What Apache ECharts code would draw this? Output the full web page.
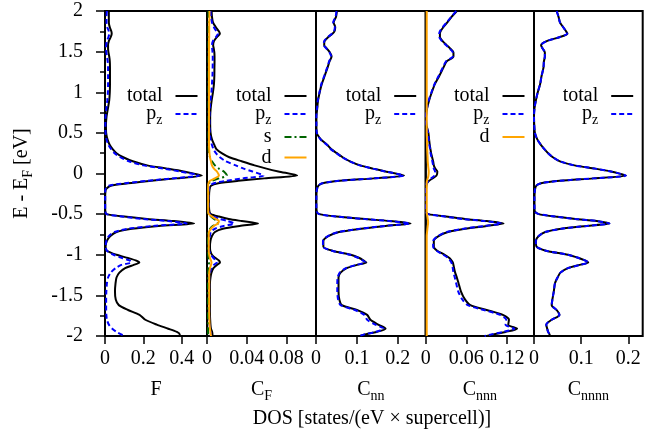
<!DOCTYPE html>
<html><head><meta charset="utf-8">
<script src="https://cdn.jsdelivr.net/npm/echarts@6/dist/echarts.min.js"></script>
<style>html,body{margin:0;padding:0;background:#fff}#c{width:670px;height:435px}</style>
</head><body><div id="c"></div>
<script>
// Energy grid E - E_F [eV] (shared by all curves)
const energy = [2.00,1.93,1.86,1.80,1.75,1.72,1.68,1.63,1.58,1.54,1.49,1.44,1.38,1.30,1.20,1.10,1.00,0.90,0.80,0.70,0.60,0.50,0.42,0.35,0.30,0.25,0.20,0.15,0.10,0.06,0.025,-0.025,-0.06,-0.09,-0.12,-0.15,-0.20,-0.30,-0.40,-0.47,-0.50,-0.53,-0.56,-0.585,-0.615,-0.645,-0.68,-0.72,-0.77,-0.83,-0.90,-0.95,-1.00,-1.04,-1.07,-1.095,-1.125,-1.165,-1.22,-1.28,-1.35,-1.45,-1.55,-1.62,-1.68,-1.74,-1.80,-1.86,-1.91,-1.95,-1.98,-2.00];

// Panel F
const F_total = [.020,.020,.020,.025,.033,.035,.030,.020,.016,.016,.018,.022,.025,.026,.026,.026,.025,.022,.015,.008,.005,.006,.013,.025,.040,.060,.095,.145,.220,.325,.410,.505,.370,.240,.120,.030,.004,.001,.001,.002,.008,.100,.220,.360,.465,.280,.140,.060,.028,.010,.003,.010,.060,.120,.160,.179,.150,.105,.075,.060,.055,.052,.056,.072,.120,.180,.210,.270,.330,.375,.390,.390];
const F_pz = [.010,.008,.008,.012,.020,.022,.018,.010,.006,.005,.007,.010,.014,.016,.016,.016,.015,.012,.007,.003,.002,.003,.008,.018,.032,.050,.080,.125,.200,.305,.390,.490,.350,.220,.105,.020,.002,.001,.001,.002,.007,.090,.200,.330,.426,.250,.120,.050,.020,.007,.004,.010,.045,.090,.128,.138,.085,.055,.030,.016,.010,.007,.006,.006,.006,.007,.010,.020,.038,.060,.085,.100];

// Panel C_F
const CF_total = [.0047,.0050,.0060,.0090,.0120,.0130,.0100,.0070,.0062,.0068,.0074,.0076,.0076,.0075,.0074,.0070,.0060,.0047,.0037,.0032,.0032,.0036,.0050,.0075,.0095,.0148,.0225,.0350,.0480,.0600,.0720,.0910,.0580,.0316,.0114,.0040,.0025,.0020,.0020,.0025,.0040,.0120,.0220,.0350,.0515,.0330,.0160,.0080,.0050,.0035,.0030,.0033,.0050,.0085,.0120,.0131,.0100,.0065,.0045,.0035,.0030,.0030,.0030,.0030,.0030,.0030,.0032,.0035,.0040,.0052,.0055,.0055];
const CF_pz = [.0035,.0040,.0050,.0070,.0095,.0110,.0090,.0060,.0050,.0052,.0056,.0058,.0058,.0057,.0055,.0050,.0045,.0035,.0028,.0025,.0025,.0028,.0035,.0050,.0065,.0090,.0130,.0190,.0290,.0370,.0460,.0570,.0360,.0190,.0070,.0030,.0018,.0015,.0015,.0015,.0030,.0070,.0130,.0210,.0275,.0170,.0080,.0040,.0028,.0020,.0020,.0022,.0040,.0065,.0090,.0098,.0070,.0045,.0030,.0022,.0022,.0022,.0022,.0022,.0022,.0022,.0022,.0025,.0030,.0038,.0040,.0040];
const CF_s = [.0015,.0015,.0015,.0015,.0015,.0015,.0015,.0015,.0015,.0015,.0015,.0015,.0015,.0015,.0015,.0015,.0015,.0015,.0015,.0015,.0015,.0015,.0015,.0015,.0016,.0020,.0030,.0050,.0080,.0120,.0170,.0200,.0120,.0050,.0020,.0012,.0010,.0010,.0010,.0010,.0012,.0040,.0070,.0100,.0110,.0060,.0030,.0015,.0010,.0010,.0010,.0010,.0012,.0015,.0018,.0020,.0018,.0014,.0012,.0010,.0010,.0010,.0010,.0010,.0010,.0010,.0010,.0010,.0010,.0010,.0010,.0010];
const CF_d = [.0025,.0025,.0022,.0022,.0022,.0022,.0022,.0020,.0020,.0020,.0020,.0020,.0020,.0020,.0020,.0020,.0020,.0020,.0020,.0020,.0020,.0020,.0020,.0020,.0022,.0025,.0030,.0040,.0050,.0070,.0100,.0120,.0080,.0030,.0015,.0012,.0012,.0012,.0012,.0012,.0020,.0050,.0090,.0120,.0110,.0070,.0040,.0020,.0018,.0018,.0018,.0018,.0022,.0030,.0040,.0045,.0040,.0030,.0022,.0022,.0022,.0022,.0022,.0022,.0022,.0022,.0024,.0026,.0030,.0035,.0038,.0040];

// Panel C_nn
const Cnn_total = [.051,.049,.043,.047,.045,.040,.030,.021,.020,.026,.034,.038,.033,.028,.021,.014,.009,.005,.003,.001,.001,.002,.012,.028,.037,.051,.065,.083,.108,.140,.170,.215,.141,.058,.016,.006,.002,.001,.001,.002,.008,.050,.120,.180,.231,.170,.110,.056,.030,.018,.018,.040,.085,.106,.116,.123,.100,.075,.060,.055,.055,.055,.057,.063,.100,.125,.133,.152,.170,.148,.120,.108];
const Cnn_pz = [.050,.048,.042,.046,.044,.039,.029,.020,.019,.025,.033,.037,.032,.027,.020,.013,.0085,.0045,.0025,.001,.001,.002,.011,.027,.036,.050,.064,.082,.107,.139,.169,.214,.140,.057,.015,.0055,.002,.001,.001,.002,.008,.049,.118,.178,.229,.168,.108,.055,.029,.017,.017,.039,.083,.104,.114,.121,.098,.073,.058,.053,.052,.052,.054,.060,.095,.118,.125,.145,.165,.145,.118,.106];

// Panel C_nnn
const Cnnn_total = [.046,.0385,.032,.026,.022,.021,.021,.025,.031,.036,.041,.041,.031,.026,.020,.0135,.009,.005,.002,.0005,.001,.004,.005,.006,.007,.008,.0095,.011,.012,.014,.0172,.016,.010,.005,.002,.001,.0005,.0005,.0005,.0005,.004,.030,.058,.090,.115,.090,.058,.033,.019,.012,.012,.017,.028,.035,.038,.040,.041,.042,.0435,.046,.0485,.052,.058,.066,.090,.114,.123,.122,.135,.118,.100,.090];
const Cnnn_pz = [.045,.038,.031,.025,.021,.020,.020,.024,.030,.035,.040,.040,.030,.025,.019,.013,.0085,.0045,.0018,.0005,.001,.0035,.0045,.0055,.0065,.0072,.0085,.0098,.011,.012,.0138,.013,.008,.004,.0015,.0008,.0005,.0005,.0005,.0005,.0035,.028,.055,.087,.112,.087,.056,.031,.018,.011,.011,.016,.026,.033,.036,.038,.039,.040,.041,.043,.045,.048,.054,.062,.086,.110,.119,.118,.131,.114,.097,.087];
const Cnnn_d = [.0015,.0015,.0015,.0015,.0015,.0015,.0015,.0015,.0015,.0015,.0015,.0015,.0015,.0015,.0015,.0015,.0015,.0015,.0015,.0015,.0015,.0015,.0018,.0020,.0022,.0025,.0028,.0030,.0035,.0040,.0045,.0040,.0030,.0020,.0015,.0015,.0015,.0015,.0015,.0015,.0018,.0025,.0030,.0035,.0035,.0030,.0025,.0020,.0015,.0015,.0015,.0015,.0015,.0015,.0015,.0015,.0015,.0015,.0015,.0015,.0015,.0015,.0015,.0015,.0015,.0015,.0015,.0015,.0015,.0015,.0015,.0015];

// Panel C_nnnn
const Cnnnn_total = [.048,.052,.055,.062,.068,.071,.055,.027,.015,.018,.023,.023,.021,.020,.016,.013,.008,.004,.001,.000,.0005,.002,.007,.015,.022,.030,.040,.055,.086,.130,.163,.195,.126,.055,.015,.005,.002,.001,.001,.002,.010,.045,.088,.133,.160,.112,.058,.024,.010,.004,.0055,.025,.072,.095,.108,.115,.097,.072,.056,.050,.0445,.042,.039,.0375,.048,.054,.0375,.026,.028,.030,.033,.034];
const Cnnnn_pz = [.048,.052,.055,.062,.068,.070,.055,.027,.015,.018,.023,.023,.021,.020,.016,.013,.008,.004,.001,.000,.0005,.002,.007,.015,.022,.030,.040,.055,.086,.130,.163,.195,.126,.055,.015,.005,.002,.001,.001,.002,.010,.045,.088,.133,.160,.112,.058,.024,.010,.004,.0055,.025,.072,.095,.108,.115,.097,.072,.056,.050,.0445,.042,.039,.0375,.048,.054,.0375,.026,.028,.030,.033,.034];

// Axis settings
const panelNames = ['F', 'C_F', 'C_nn', 'C_nnn', 'C_nnnn'];
const xMax = [0.532, 0.110, 0.268, 0.160, 0.2305];
const xTickValues = [[0, 0.2, 0.4], [0, 0.04, 0.08], [0, 0.1, 0.2], [0, 0.06, 0.12], [0, 0.1, 0.2]];
const yMin = -2, yMax = 2, yInterval = 0.5;
const legendRows = [['total', 'p_z'], ['total', 'p_z', 's', 'd'], ['total', 'p_z'], ['total', 'p_z', 'd'], ['total', 'p_z']];
const panelCurves = [
  [['total', F_total], ['p_z', F_pz]],
  [['total', CF_total], ['p_z', CF_pz], ['s', CF_s], ['d', CF_d]],
  [['total', Cnn_total], ['p_z', Cnn_pz]],
  [['total', Cnnn_total], ['p_z', Cnnn_pz], ['d', Cnnn_d]],
  [['total', Cnnnn_total], ['p_z', Cnnnn_pz]]
];
const xTitle = 'DOS [states/(eV \u00d7 supercell)]';
const yTitle = 'E - E_F [eV]';

// Layout / style
const FONT = '"Liberation Serif", "Times New Roman", Times, serif';
const gridLeft = [105, 207, 316, 425.7, 534];
const gridWidth = [102, 109, 109.7, 108.3, 108.7];
const gridTop = 11, gridHeight = 325;
const LH = 26;
const styles = {
  total: { color: '#000000', type: 'solid' },
  p_z: { color: '#0000ff', type: [5, 3] },
  s: { color: '#006400', type: [7, 3, 2, 3] },
  d: { color: '#ffa500', type: 'solid' }
};
const rich = {
  m: { fontFamily: FONT, fontSize: 20, lineHeight: LH, color: '#000' },
  s: { fontFamily: FONT, fontSize: 14, lineHeight: LH, padding: [12, 0, 0, 0], color: '#000' },
  g: { fontFamily: FONT, fontSize: 20, lineHeight: LH, width: 8 }
};
function richText(t) {
  const out = [];
  const re = /_([A-Za-z]+)/g;
  let last = 0, m;
  while ((m = re.exec(t)) !== null) {
    if (m.index > last) out.push('{m|' + t.slice(last, m.index) + '}');
    out.push('{s|' + m[1] + '}');
    last = re.lastIndex;
  }
  if (last < t.length) out.push('{m|' + t.slice(last) + '}');
  return out.join('');
}

const grids = [], xAxes = [], yAxes = [], series = [], legends = [];
for (let i = 0; i < 5; i++) {
  grids.push({ left: gridLeft[i], top: gridTop, width: gridWidth[i], height: gridHeight,
    show: true, borderColor: '#000', borderWidth: 2, backgroundColor: 'transparent',
    containLabel: false, outerBoundsMode: 'none' });
  xAxes.push({ type: 'value', gridIndex: i, min: 0, max: xMax[i], position: 'bottom',
    axisLine: { show: false, onZero: false }, splitLine: { show: false },
    axisTick: { show: true, inside: false, length: 8, customValues: xTickValues[i], lineStyle: { color: '#000', width: 1.5 } },
    axisLabel: { show: true, customValues: xTickValues[i], margin: 13, fontFamily: FONT, fontSize: 20, color: '#000',
      formatter: v => String(v) },
    name: richText(panelNames[i]), nameLocation: 'middle', nameGap: 41, nameMoveOverlap: false,
    nameTextStyle: { rich: rich }
  });
  const first = i === 0;
  yAxes.push({ type: 'value', gridIndex: i, min: yMin, max: yMax, interval: yInterval, position: 'left',
    axisLine: { show: false, onZero: false }, splitLine: { show: false },
    axisTick: { show: first, inside: false, length: 9, lineStyle: { color: '#000', width: 1.5 } },
    minorTick: { show: first, splitNumber: 2, length: 5, lineStyle: { color: '#000', width: 1.5 } },
    minorSplitLine: { show: false },
    axisLabel: { show: first, margin: 22, fontFamily: FONT, fontSize: 20, color: '#000', formatter: v => String(v) },
    name: first ? richText(yTitle) : '', nameLocation: 'middle', nameGap: 70, nameRotate: 90, nameMoveOverlap: false,
    nameTextStyle: { rich: rich }
  });
  panelCurves[i].forEach(([name, vals]) => {
    series.push({ type: 'line', name: name, xAxisIndex: i, yAxisIndex: i,
      data: energy.map((e, k) => [vals[k], e]),
      symbol: 'none', showSymbol: false, smooth: 0.25, animation: false, silent: true,
      lineStyle: { width: 2, color: styles[name].color, type: styles[name].type },
      itemStyle: { color: styles[name].color }
    });
  });
  const sampleEnd = gridLeft[i] + gridWidth[i] - 8.5;
  const rowY = [95, 115.5, 136, 156.5];
  legendRows[i].forEach((name, r) => {
    const hasSub = name.indexOf('_') >= 0;
    legends.push({ data: [name], orient: 'horizontal', align: 'right', right: 670 - sampleEnd,
      top: rowY[r] - (hasSub ? 14.5 : 9),
      padding: 0, itemGap: 0, itemWidth: 22, itemHeight: 10, selectedMode: false,
      itemStyle: { opacity: 0 },
      formatter: n => richText(n) + '{g| }',
      textStyle: { rich: rich, fontFamily: FONT, fontSize: 20, color: '#000' }
    });
  });
}

const chart = echarts.init(document.getElementById('c'), null, { renderer: 'canvas' });
chart.setOption({
  backgroundColor: '#ffffff',
  animation: false,
  grid: grids, xAxis: xAxes, yAxis: yAxes, series: series, legend: legends,
  graphic: [{ type: 'text', x: 372, y: 419, silent: true,
    style: { text: xTitle, fontFamily: FONT, fontSize: 20, fill: '#000', align: 'center', verticalAlign: 'middle' } }]
});
</script></body></html>
